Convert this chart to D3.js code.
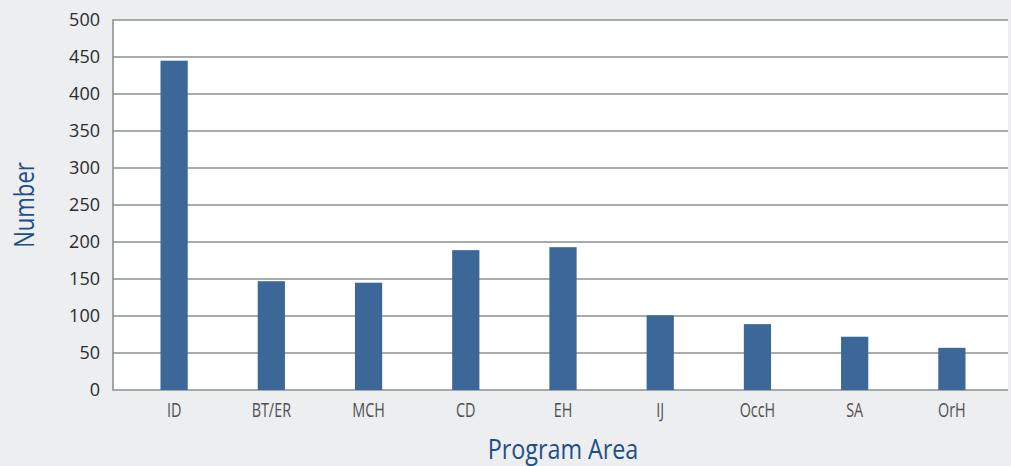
<!DOCTYPE html>
<html>
<head>
<meta charset="utf-8">
<script src="https://cdn.jsdelivr.net/npm/d3@7"></script>
<style>
  html, body { margin: 0; padding: 0; background: #eceef0; }
  svg { display: block; }
</style>
</head>
<body>
<svg id="chart" width="1011" height="466"></svg>
<script>
// Program areas and counts
const categories = ["ID", "BT/ER", "MCH", "CD", "EH", "IJ", "OccH", "SA", "OrH"];
const counts = [445, 147, 145, 189, 193, 101, 89, 72, 57];
const yTicks = [0, 50, 100, 150, 200, 250, 300, 350, 400, 450, 500];

const svg = d3.select("#chart");
const W = 1011, H = 466;
const plot = { left: 113, right: 1008, top: 20, bottom: 390 };

svg.append("rect").attr("width", W).attr("height", H).attr("fill", "#eceef0");

// plot background
svg.append("rect")
  .attr("x", plot.left).attr("y", plot.top)
  .attr("width", plot.right - plot.left).attr("height", plot.bottom - plot.top)
  .attr("fill", "#ffffff");

const x = d3.scaleBand().domain(categories).range([125.5, 1000.5]).paddingInner(0.72).paddingOuter(0.36);
const y = d3.scaleLinear().domain([0, 500]).range([plot.bottom, plot.top]);

// gridlines
svg.append("g").selectAll("line").data(yTicks).join("line")
  .attr("x1", plot.left).attr("x2", plot.right)
  .attr("y1", d => y(d)).attr("y2", d => y(d))
  .attr("stroke", "#8a9094").attr("stroke-width", 1.6);

// bars
svg.append("g").selectAll("rect").data(counts).join("rect")
  .attr("x", (d, i) => x(categories[i]))
  .attr("width", x.bandwidth())
  .attr("y", d => y(d))
  .attr("height", d => y(0) - y(d))
  .attr("fill", "#3b6899");

// left axis line
svg.append("line")
  .attr("x1", plot.left).attr("x2", plot.left)
  .attr("y1", plot.top - 0.8).attr("y2", plot.bottom + 0.8)
  .attr("stroke", "#8a9094").attr("stroke-width", 1.6);

// y tick labels
const yAxis = d3.axisLeft(y).tickValues(yTicks).tickSize(0).tickPadding(13);
const gy = svg.append("g").attr("transform", `translate(${plot.left},0)`).call(yAxis);
gy.select(".domain").remove();
gy.selectAll("text")
  .attr("font-family", "'Open Sans', sans-serif")
  .attr("font-size", 18)
  .attr("fill", "#2b2b2b");

// x tick labels, condensed horizontally
const xAxis = d3.axisBottom(x).tickSize(0).tickPadding(0);
const gx = svg.append("g").attr("transform", `translate(0,${plot.bottom})`).call(xAxis);
gx.select(".domain").remove();
gx.selectAll(".tick text")
  .attr("font-family", "'Open Sans', sans-serif")
  .attr("font-size", 20)
  .attr("fill", "#505050")
  .attr("dy", 0)
  .attr("x", 0)
  .attr("y", 27)
  .attr("transform", "scale(0.72,1)");

// axis titles
svg.append("text")
  .attr("transform", `translate(563,458.5) scale(0.88,1)`)
  .attr("text-anchor", "middle")
  .attr("font-family", "'Open Sans', sans-serif")
  .attr("font-size", 26.5)
  .attr("fill", "#1c4f87")
  .text("Program Area");

svg.append("text")
  .attr("transform", `translate(34,205) rotate(-90) scale(0.82,1)`)
  .attr("text-anchor", "middle")
  .attr("font-family", "'Open Sans', sans-serif")
  .attr("font-size", 27)
  .attr("fill", "#1c4f87")
  .text("Number");
</script>
</body>
</html>
